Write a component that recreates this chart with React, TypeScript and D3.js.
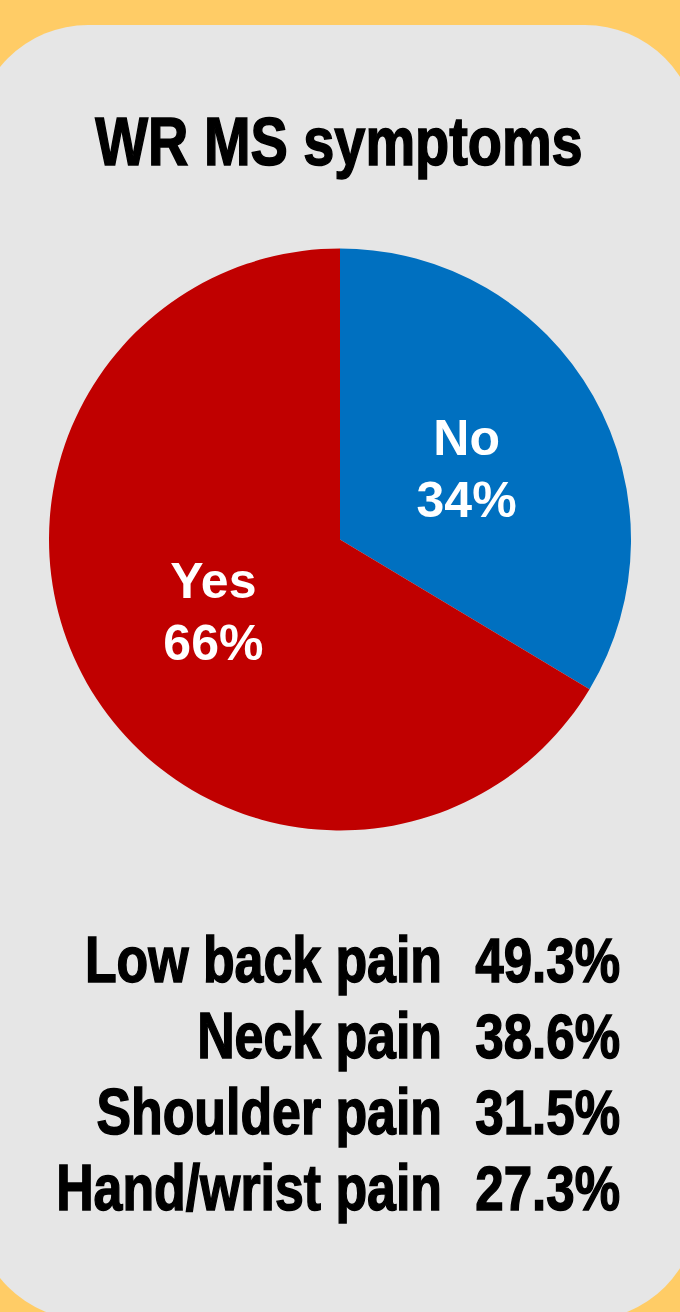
import React from "react";
import * as d3 from "d3";

const title = "WR MS symptoms";
const pieCategories = ["No", "Yes"];
const pieValues = [33.6, 66.4];
const pieColors = ["#0070C0", "#C00000"];
const symptomNames = ["Low back pain", "Neck pain", "Shoulder pain", "Hand/wrist pain"];
const symptomValues = [49.3, 38.6, 31.5, 27.3];

const W = 680;
const H = 1312;
const FONT = "'Liberation Sans', Arial, sans-serif";
const NARROW_SCALE = 0.81;

export default function App() {
  const cx = 340;
  const cy = 539.5;
  const r = 291;
  const data = pieCategories.map((c, i) => ({ name: c, value: pieValues[i], color: pieColors[i] }));
  const pie = d3.pie<any>().value((d) => d.value).sort(null);
  const arcs = pie(data);
  const arc = d3.arc<any>().innerRadius(0).outerRadius(r);
  const labelArc = d3.arc<any>().innerRadius(r * 0.5).outerRadius(r * 0.5);

  const rowY = d3.scalePoint<string>().domain(symptomNames).range([982, 1210]);

  return (
    <svg width={W} height={H} style={{ position: "absolute", left: 0, top: 0 }}>
      <rect x={0} y={0} width={W} height={H} fill="#FFCC66" />
      <rect x={-25} y={25} width={723} height={1295} rx={113} ry={113} fill="#E6E6E6" />
      <g transform={`translate(339,165) scale(${NARROW_SCALE},1)`}>
        <text x={0} y={0} textAnchor="middle" fontFamily={FONT} fontWeight="bold" fontSize={69} fill="#000" stroke="#000" strokeWidth={1.6}>
          {title}
        </text>
      </g>
      <g transform={`translate(${cx},${cy})`}>
        {arcs.map((a, i) => (
          <path key={i} d={arc(a) as string} fill={a.data.color} />
        ))}
        {arcs.map((a, i) => {
          const [lx, ly] = labelArc.centroid(a);
          return (
            <text key={"l" + i} x={lx} y={ly} textAnchor="middle" fontFamily={FONT} fontWeight="bold" fontSize={50} fill="#fff">
              <tspan x={lx} dy={-13}>{a.data.name}</tspan>
              <tspan x={lx} dy={62}>{Math.round(a.data.value) + "%"}</tspan>
            </text>
          );
        })}
      </g>
      {symptomNames.map((n, i) => (
        <g key={n}>
          <g transform={`translate(442,${rowY(n)}) scale(${NARROW_SCALE},1)`}>
            <text x={0} y={0} textAnchor="end" fontFamily={FONT} fontWeight="bold" fontSize={64} fill="#000" stroke="#000" strokeWidth={1.5}>
              {n}
            </text>
          </g>
          <g transform={`translate(620,${rowY(n)}) scale(${NARROW_SCALE},1)`}>
            <text x={0} y={0} textAnchor="end" fontFamily={FONT} fontWeight="bold" fontSize={63} fill="#000" stroke="#000" strokeWidth={1.5}>
              {symptomValues[i].toFixed(1) + "%"}
            </text>
          </g>
        </g>
      ))}
    </svg>
  );
}
